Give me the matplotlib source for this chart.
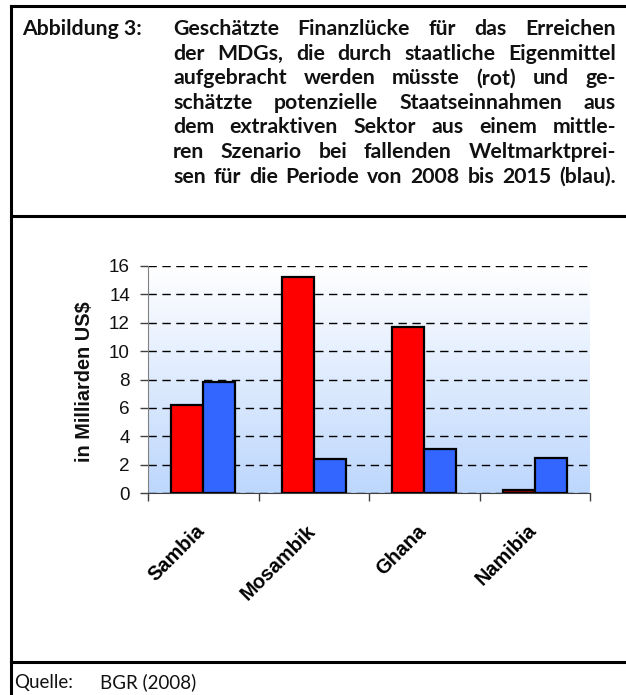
import numpy as np
import matplotlib
matplotlib.use("Agg")
import matplotlib.pyplot as plt
from matplotlib.lines import Line2D

W, H = 626, 695

countries = ["Sambia", "Mosambik", "Ghana", "Namibia"]
gap_red = [6.2, 15.2, 11.7, 0.2]      # Finanzluecke (rot)
rev_blue = [7.8, 2.4, 3.1, 2.5]       # Staatseinnahmen (blau)
yticks = [0, 2, 4, 6, 8, 10, 12, 14, 16]

title_head = "Abbildung 3:"
title_lines = [
    "Geschätzte Finanzlücke für das Erreichen",
    "der MDGs, die durch staatliche Eigenmittel",
    "aufgebracht werden müsste (rot) und ge-",
    "schätzte potenzielle Staatseinnahmen aus",
    "dem extraktiven Sektor aus einem mittle-",
    "ren Szenario bei fallenden Weltmarktprei-",
    "sen für die Periode von 2008 bis 2015 (blau).",
]
source_label = "Quelle:"
source_text = "BGR (2008)"

fig = plt.figure(figsize=(W / 100, H / 100), dpi=100)

def fx(px): return px / W
def fy(py): return 1 - py / H

# --- frame ------------------------------------------------------------------
for (x0, y0, x1, y1) in [(11, 6, W, 6), (11, 6, 11, H), (11, 216, W, 216), (11, 662, W, 662)]:
    fig.add_artist(Line2D([fx(x0), fx(x1)], [fy(y0), fy(y1)], color="black", lw=2.2))

# --- title, justified (baseline aligned) ----------------------------------------
tfont = dict(family="Lato", weight="bold", size=15.3, color="#111111")
fig.text(fx(22), fy(35), title_head, va="baseline", ha="left", **tfont)
renderer = fig.canvas.get_renderer()
x_left, x_right, y0, dy = 173, 616, 35, 24.6
for i, line in enumerate(title_lines):
    words = line.split(" ")
    arts = [fig.text(0, 0, w, va="baseline", ha="left", **tfont) for w in words]
    widths = [a.get_window_extent(renderer).width for a in arts]
    gap = (x_right - x_left - sum(widths)) / (len(words) - 1)
    x = x_left
    for a, w in zip(arts, widths):
        a.set_position((fx(x), fy(y0 + i * dy)))
        x += w + gap

# --- chart ------------------------------------------------------------------
ax = fig.add_axes([fx(148), fy(493), fx(590) - fx(148), (493 - 266) / H])
grad = np.linspace(0, 1, 256).reshape(-1, 1, 1)
top = np.array([1.0, 1.0, 1.0])
bot = np.array([0xbd, 0xd7, 0xfd]) / 255
img = top + (bot - top) * grad
ax.imshow(img, extent=[0, 4, 0, 16], aspect="auto", zorder=0)

xs = np.arange(len(countries)) + 0.5
bw = 0.29
ax.bar(xs - bw / 2, gap_red, bw, color="#ff0000", edgecolor="black", lw=1.6, zorder=3)
ax.bar(xs + bw / 2, rev_blue, bw, color="#3366ff", edgecolor="black", lw=1.6, zorder=3)
# the tiny Namibia bar looks dark red in the reference
ax.patches[3].set_facecolor("#a00000")

ax.set_xlim(0, 4)
ax.set_ylim(0, 16)
ax.set_yticks(yticks)
ax.yaxis.grid(True, color="black", ls=(0, (6, 4)), lw=1.0)
for a in ax.get_ygridlines():
    a.set_zorder(1)
ax.set_xticks([0, 1, 2, 3, 4])
ax.set_xticklabels([])
ax.tick_params(axis="both", direction="out", length=6, width=1.0, color="#404040",
               labelsize=13.6, labelcolor="#111111")
ax.tick_params(axis="y", pad=7)
for s in ["top", "right"]:
    ax.spines[s].set_visible(False)
ax.spines["left"].set_color("#808080")
ax.spines["bottom"].set_color("#404040")
for t in ax.get_yticklabels():
    t.set_family("Liberation Sans")
for x, name in zip(xs, countries):
    ax.annotate(name, xy=(x, 0), xytext=(-8, -28), textcoords="offset pixels",
                rotation=45, rotation_mode="anchor", ha="right", va="top",
                family="Liberation Sans", weight="bold", size=14.3, annotation_clip=False)
fig.text(fx(84), fy(382), "in Milliarden US$", rotation=90, ha="center", va="center",
         family="Liberation Sans", weight="bold", size=14.3, color="#111111")

# --- source -----------------------------------------------------------------
sfont = dict(family="Lato", size=13.5, color="#111111", va="baseline")
fig.text(fx(14), fy(688), source_label, **sfont)
fig.text(fx(100), fy(688), source_text, **sfont)

fig.savefig("out.png", dpi=100)
